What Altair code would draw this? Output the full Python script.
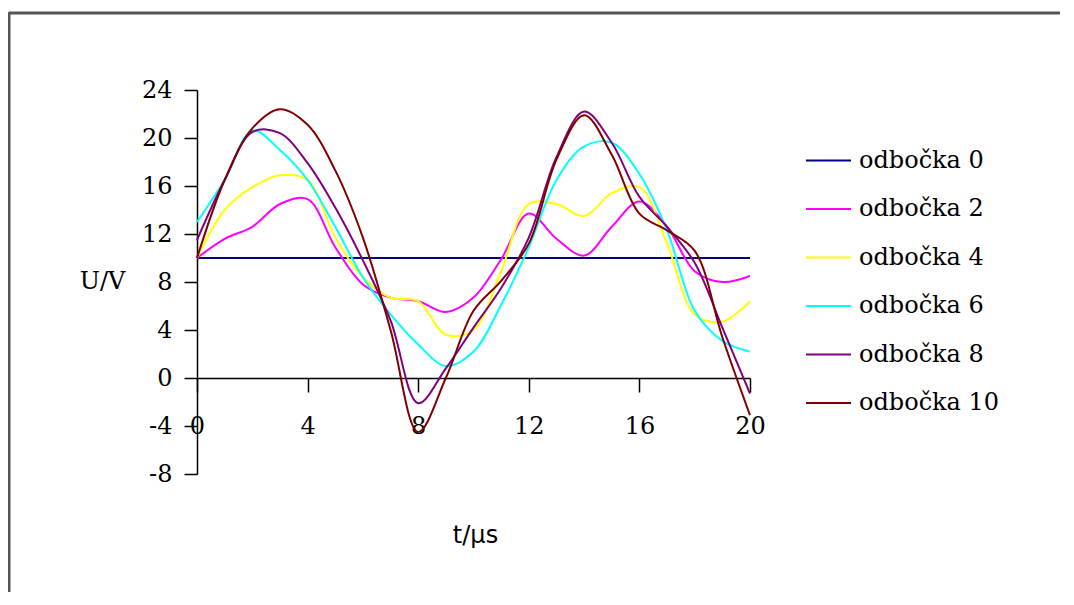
import altair as alt
import pandas as pd

t_us = list(range(21))
series_names = ["odbočka 0", "odbočka 2", "odbočka 4", "odbočka 6", "odbočka 8", "odbočka 10"]
series_colors = ["#000080", "#FF00FF", "#FFFF00", "#00FFFF", "#800080", "#800000"]

odbocka_0 = [10, 10, 10, 10, 10, 10, 10, 10, 10, 10, 10, 10, 10, 10, 10, 10, 10, 10, 10, 10, 10]
odbocka_2 = [10, 11.6, 12.6, 14.5, 14.9, 10.9, 7.8, 6.7, 6.4, 5.5, 6.7, 9.9, 13.7, 11.6, 10.2, 12.6, 14.7, 12.6, 8.9, 8.0, 8.5]
odbocka_4 = [10, 14.0, 15.9, 16.9, 16.5, 11.7, 8.4, 6.7, 6.4, 3.6, 4.0, 8.9, 14.5, 14.5, 13.5, 15.4, 15.9, 11.2, 5.3, 4.7, 6.4]
odbocka_6 = [13.0, 16.5, 20.6, 19.0, 16.5, 12.6, 8.4, 5.3, 2.8, 1.0, 2.2, 6.1, 10.9, 16.5, 19.3, 19.6, 17.0, 12.3, 5.6, 3.1, 2.2]
odbocka_8 = [11.5, 16.5, 20.5, 20.4, 17.9, 14.2, 9.8, 4.8, -2.1, 0.8, 4.2, 7.5, 11.7, 18.4, 22.2, 19.6, 15.1, 12.6, 9.6, 4.2, -1.3]
odbocka_10 = [10, 16.5, 20.8, 22.4, 21.1, 17.3, 11.7, 4.0, -4.5, 0.0, 5.6, 8.1, 11.2, 18.2, 21.9, 18.6, 13.7, 12.3, 10.6, 3.4, -3.1]

y_ticks = [-8, -4, 0, 4, 8, 12, 16, 20, 24]
x_ticks = [0, 4, 8, 12, 16, 20]

all_series = [odbocka_0, odbocka_2, odbocka_4, odbocka_6, odbocka_8, odbocka_10]
rows = []
for idx, (name, vals) in enumerate(zip(series_names, all_series)):
    for t, v in zip(t_us, vals):
        rows.append({"t": t, "U": v, "serie": name, "poradi": idx})
df = pd.DataFrame(rows)

SERIF = "DejaVu Serif"

lines = alt.Chart(df).mark_line(strokeWidth=2, interpolate="catmull-rom").encode(
    x=alt.X("t:Q",
            scale=alt.Scale(domain=[0, 20], nice=False, zero=False),
            axis=alt.Axis(values=x_ticks, offset=-96, tickSize=14, labelPadding=34,
                          labelBaseline="middle", labelFont=SERIF, labelFontSize=24,
                          labelFlush=False, labelOverlap=False,
                          labelColor="black", domainColor="black", tickColor="black",
                          domainWidth=1.5, tickWidth=1.5, grid=False,
                          labelExpr="'' + datum.value",
                          title="t/µs", titleFont="DejaVu Sans", titleFontSize=24,
                          titleFontWeight="normal", titleColor="black",
                          titleX=278, titleY=157, titleAlign="center", titleBaseline="middle")),
    y=alt.Y("U:Q",
            scale=alt.Scale(domain=[-8, 24], nice=False, zero=False),
            axis=alt.Axis(values=y_ticks, tickSize=13, labelPadding=12,
                          labelFont=SERIF, labelFontSize=24, labelColor="black",
                          labelExpr="'' + datum.value", labelFlush=False, labelOverlap=False,
                          domainColor="black", tickColor="black", domainWidth=1.5, tickWidth=1.5,
                          grid=False, title="U/V", titleAngle=0, titleFont=SERIF,
                          titleFontSize=24, titleFontWeight="normal", titleColor="black",
                          titleX=-95, titleY=191, titleAlign="center", titleBaseline="middle")),
    color=alt.Color("serie:N",
                    scale=alt.Scale(domain=series_names, range=series_colors),
                    sort=series_names,
                    legend=alt.Legend(title=None, orient="none", legendX=608, legendY=47,
                                      symbolType="stroke", symbolSize=2025, symbolStrokeWidth=2,
                                      labelFont=SERIF, labelFontSize=24, labelColor="black",
                                      labelOffset=7, rowPadding=12.5, padding=0)),
    order=alt.Order("poradi:Q"),
)

frame_top = alt.Chart(pd.DataFrame({"k": [0]})).mark_rule(color="#555555", strokeWidth=3).encode(
    x=alt.value(-188), x2=alt.value(900), y=alt.value(-77))
frame_left = alt.Chart(pd.DataFrame({"k": [0]})).mark_rule(color="#555555", strokeWidth=3).encode(
    x=alt.value(-188), y=alt.value(-78), y2=alt.value(520))

chart = alt.layer(frame_top, frame_left, lines).properties(
    width=553, height=384,
    autosize=alt.AutoSizeParams(type="none"),
    padding={"left": 189, "top": 82, "right": 310, "bottom": 118},
    view=alt.ViewBackground(stroke="transparent", strokeWidth=0),
).configure_view(stroke="transparent", strokeWidth=0).configure(background="white")

chart.save("out.html", embed_options={"renderer": "svg", "actions": False})
